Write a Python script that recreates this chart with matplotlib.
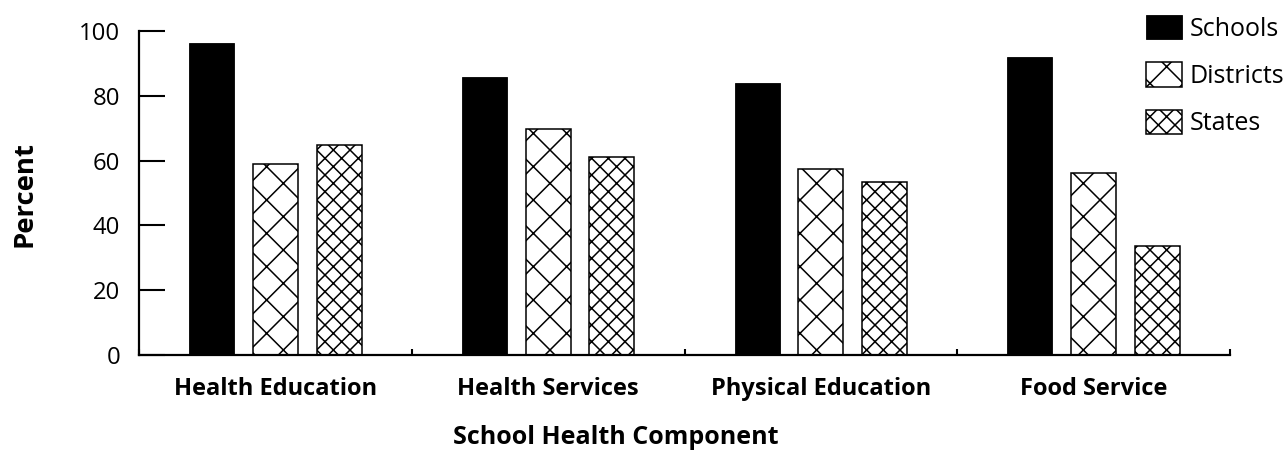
import matplotlib
matplotlib.use("Agg")
import matplotlib.pyplot as plt
import numpy as np

categories = ["Health Education", "Health Services", "Physical Education", "Food Service"]
series_names = ["Schools", "Districts", "States"]
schools = [96.2, 85.9, 84.0, 91.9]
districts = [59.0, 69.7, 57.5, 56.1]
states = [64.7, 61.2, 53.3, 33.6]
yticks = [0, 20, 40, 60, 80, 100]

plt.rcParams['font.family'] = ['Open Sans', 'DejaVu Sans']
plt.rcParams['hatch.linewidth'] = 0.55
plt.rcParams['hatch.color'] = 'black'

DPI = 200
fig = plt.figure(figsize=(1287 / DPI, 451 / DPI), dpi=DPI)
ax = fig.add_axes([139 / 1287, 1 - 355 / 451, (1230 - 139) / 1287, (355 - 31) / 451])

x = np.arange(len(categories))
w = 0.165
off = 0.234
ax.bar(x - off, schools, w, color='black', edgecolor='black', linewidth=0.3, label=series_names[0])
ax.bar(x, districts, w, color='white', edgecolor='black', hatch='xx', linewidth=0.55, label=series_names[1])
ax.bar(x + off, states, w, color='white', edgecolor='black', hatch='xxxx', linewidth=0.55, label=series_names[2])

ax.set_xlim(-0.5, len(categories) - 0.5)
ax.set_ylim(0, 100)
ax.spines['top'].set_visible(False)
ax.spines['right'].set_visible(False)
for s in ('left', 'bottom'):
    ax.spines[s].set_linewidth(0.8)

ax.set_yticks(yticks)
ax.tick_params(axis='y', direction='in', length=9.4, width=0.75, pad=6.8, labelsize=8.6)
ax.set_xticks(x)
ax.set_xticklabels(categories, fontweight='bold', fontsize=8.5)
ax.tick_params(axis='x', which='major', length=0, pad=8.0)
ax.set_xticks(np.arange(-0.5, len(categories)), minor=True)
ax.tick_params(axis='x', which='minor', direction='in', length=2.2, width=0.75)

fig.text(616 / 1287, 1 - 438 / 451, "School Health Component", fontweight='bold', fontsize=9.0,
         ha='center', va='center')
fig.text(25 / 1287, 1 - 194 / 451, "Percent", rotation=90, fontweight='bold', fontsize=9.9,
         ha='center', va='center')

leg = ax.legend(loc='upper left', bbox_to_anchor=(1146 / 1287, 1 - 15 / 451),
                bbox_transform=fig.transFigure, frameon=False, fontsize=9.0,
                handlelength=1.44, handleheight=1.12, handletextpad=0.32,
                labelspacing=0.83, borderpad=0, borderaxespad=0)

fig.savefig("out.png", dpi=DPI)
